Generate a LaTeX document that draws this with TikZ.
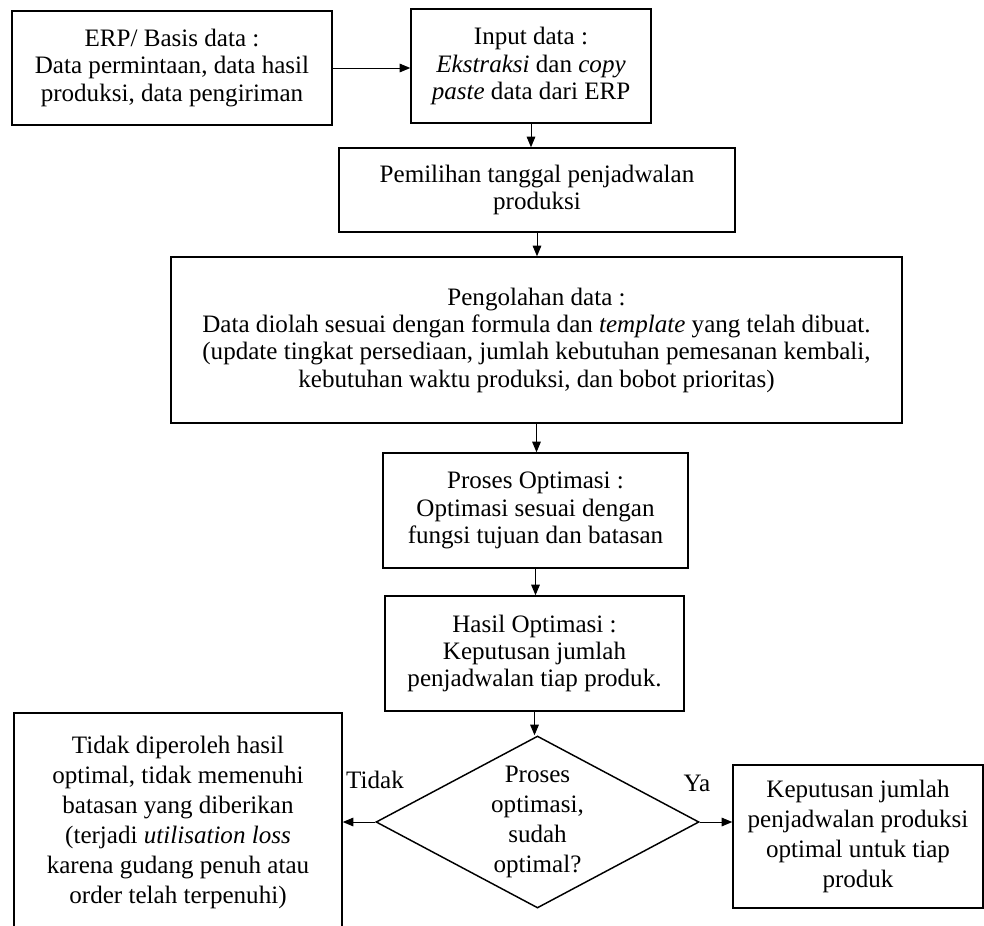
\documentclass[tikz,border=0pt]{standalone}
\usepackage{fontspec}
\setmainfont{Liberation Serif}
\usetikzlibrary{shapes.geometric,arrows.meta}
\begin{document}
\begin{tikzpicture}[x=0.75pt,y=-0.75pt,
  box/.style={draw, line width=1.1pt, inner sep=0pt, align=center, font=\fontsize{18.8}{20.5}\selectfont},
  lowbox/.style={box, font=\fontsize{18.8}{22.5}\selectfont},
  arr/.style={-{Triangle[length=8pt,width=6.5pt]}, line width=0.75pt},
  lbl/.style={inner sep=0pt, font=\fontsize{18.8}{20.5}\selectfont}]
\useasboundingbox (0,0) rectangle (984,925);

\node[box, minimum width=240pt, minimum height=85.5pt] (b1) at (172,68)
  {ERP/ Basis data :\\Data permintaan, data hasil\\produksi, data pengiriman};
\node[box, minimum width=180pt, minimum height=85.5pt] (b2) at (531,66)
  {Input data :\\\textit{Ekstraksi} dan \textit{copy}\\\textit{paste} data dari ERP};
\node[box, minimum width=297pt, minimum height=63pt] (b3) at (537,190)
  {Pemilihan tanggal penjadwalan\\produksi};
\node[box, minimum width=548.25pt, minimum height=124.5pt] (b4) at (536.5,340)
  {Pengolahan data :\\Data diolah sesuai dengan formula dan \textit{template} yang telah dibuat.\\(update tingkat persediaan, jumlah kebutuhan pemesanan kembali,\\kebutuhan waktu produksi, dan bobot prioritas)};
\node[box, minimum width=228.75pt, minimum height=86.25pt] (b5) at (535.5,510.5)
  {Proses Optimasi :\\Optimasi sesuai dengan\\fungsi tujuan dan batasan};
\node[box, minimum width=224.25pt, minimum height=86.25pt] (b6) at (534.5,653.5)
  {Hasil Optimasi :\\Keputusan jumlah\\penjadwalan tiap produk.};
\node[lowbox, shape=diamond, aspect=1.88, minimum width=242.25pt, minimum height=129pt] (d) at (537.5,822)
  {Proses\\optimasi,\\sudah\\optimal?};
\node[lowbox, minimum width=246pt, minimum height=163.5pt] (l) at (178,822)
  {Tidak diperoleh hasil\\optimal, tidak memenuhi\\batasan yang diberikan\\(terjadi \textit{utilisation loss}\\karena gudang penuh atau\\order telah terpenuhi)};
\node[lowbox, minimum width=187.5pt, minimum height=107.25pt] (r) at (858,836.5)
  {Keputusan jumlah\\penjadwalan produksi\\optimal untuk tiap\\produk};

\node[lbl] (tidak) at (375,780) {Tidak};
\node[lbl] (ya) at (697,783) {Ya};

\draw[arr] (b1.east) -- (b1.east -| b2.west);
\draw[arr] (b2.south) -- (b2.south |- b3.north);
\draw[arr] (b3.south) -- (b3.south |- b4.north);
\draw[arr] (b4.south) -- (b4.south |- b5.north);
\draw[arr] (b5.south) -- (b5.south |- b6.north);
\draw[arr] (b6.south) -- (b6.south |- d.north);
\draw[arr] (d.west) -- (d.west -| l.east);
\draw[arr] (d.east) -- (d.east -| r.west);
\end{tikzpicture}
\end{document}
